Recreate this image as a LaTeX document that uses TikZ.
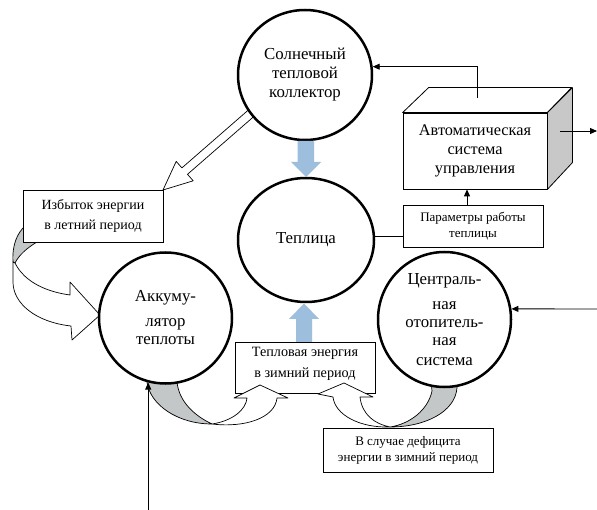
\documentclass[tikz,border=0pt]{standalone}
\usepackage{fontspec}
\setmainfont{Liberation Serif}
\usetikzlibrary{shapes.geometric,arrows.meta}
\definecolor{ribgray}{HTML}{C3C7C8}
\definecolor{facegray}{HTML}{C8C8C8}
\definecolor{arrblue}{HTML}{9DBEDC}
\begin{document}
\begin{tikzpicture}[x=1pt,y=-1pt,
  circ/.style={ellipse, draw, line width=2.5pt, fill=white, align=center, inner sep=0pt,
    font=\fontsize{16.8}{19}\selectfont},
  lbox/.style={draw, line width=0.8pt, fill=white, align=center, inner sep=0pt},
  smA/.style={font=\fontsize{14}{20}\selectfont},
  smB/.style={font=\fontsize{13}{16}\selectfont},
  conn/.style={line width=0.9pt, -{Triangle[length=7pt,width=6pt]}},
  rib/.style={draw, line width=0.7pt, line join=round},
  blue/.style={fill=arrblue}
]
\useasboundingbox (0,0) rectangle (597,510);
\fill[white] (0,0) rectangle (597,510);

% box under the lower arrowheads
\node[lbox, minimum width=140, minimum height=51] (tepE) at (305,367.5) {};

% left ribbon (summer surplus -> accumulator)
\path[rib, fill=ribgray] (13,262) .. controls (12,245) and (17,233) .. (26,225) -- (40,235) -- (37,242)
  .. controls (27,248) and (19,255) .. (15,263) -- cycle;
\path[rib, fill=white] (15,263) .. controls (25,283) and (48,292) .. (70,295) -- (70,282) -- (100,315)
  -- (72,340) -- (71,326) .. controls (35,322) and (13,303) .. (13,282) -- (13,262) -- cycle;

% hollow straight arrow (collector -> surplus box)
\path[rib, fill=white] (253.2,105.8) -- (181.9,167.9) -- (176.2,161.4) -- (163,190) -- (193.2,180.8)
  -- (187.5,174.3) -- (258.8,112.2) -- cycle;

% bottom-left ribbon (accumulator -> winter energy)
\path[rib, fill=ribgray] (147,372) -- (147,382) .. controls (150,405) and (178,424) .. (212,424)
  .. controls (195,416) and (179,402) .. (177,382) -- (177,372) -- cycle;
\path[rib, fill=white] (212,424) .. controls (232,421) and (246,410) .. (247,398) -- (234,398) -- (260,385)
  -- (288,398) -- (277,398) .. controls (275,418) and (245,428) .. (212,424) -- cycle;

% bottom-right ribbon (central heating -> winter energy)
\path[rib, fill=ribgray] (431,380) -- (432,391) .. controls (428,410) and (410,424) .. (390,427)
  .. controls (425,427) and (455,412) .. (457,388) -- (457,378) -- cycle;
\path[rib, fill=white] (390,427) .. controls (360,428) and (335,415) .. (333,397) -- (318,394) -- (344,383)
  -- (373,397) -- (360,397) .. controls (362,415) and (375,424) .. (390,427) -- cycle;

% circles
\node[circ, minimum width=134, minimum height=130] (coll) at (305,75) {Солнечный\\тепловой\\коллектор};
\node[circ, minimum width=136, minimum height=124] (tepl) at (306,240) {Теплица};
\node[circ, minimum width=133, minimum height=131, font=\fontsize{16.8}{18}\selectfont] (akk) at (165.5,318)
  {Аккуму-\\[7pt]лятор\\теплоты};
\node[circ, minimum width=133, minimum height=135, font=\fontsize{16.8}{18}\selectfont] (cent) at (444.5,319.5)
  {Централь-\\[7pt]ная\\отопитель-\\ная\\[2pt]система};

% blue arrows
\path[blue] (297.5,141) -- (314,141) -- (314,162) -- (321,162) -- (306,177) -- (291,162) -- (297.5,162) -- cycle;
\path[blue] (296,342) -- (312,342) -- (312,319) -- (319,319) -- (304,303.5) -- (289,319) -- (296,319) -- cycle;

% text boxes
\node[lbox, smA, minimum width=140, minimum height=52] (izb) at (93,216) {Избыток энергии\\в летний период};
\node[align=center, inner sep=0pt, font=\fontsize{14.2}{20.5}\selectfont] (tepEt) at (305,364)
  {Тепловая энергия\\в зимний период};
\node[lbox, smB, minimum width=170, minimum height=44] (def) at (408,450) {В случае дефицита\\энергии в зимний период};
\node[lbox, minimum width=140, minimum height=42, font=\fontsize{13}{15.5}\selectfont] (param) at (473,226)
  {Параметры работы\\теплицы};

% 3D control box
\node[lbox, minimum width=144, minimum height=76, font=\fontsize{16.3}{19}\selectfont] (auto) at (475,151)
  {Автоматическая\\система\\управления};
\draw[line width=0.8pt, fill=white, line join=round] (auto.north west) -- ++(26,-25) -- ++(143,0) -- (auto.north east) -- cycle;
\draw[line width=0.8pt, fill=facegray, line join=round] (auto.north east) -- ++(25,-25) -- ++(0,75) -- (auto.south east) -- cycle;

% connectors
\coordinate (atop) at (477,98);
\draw[conn] (atop) |- (coll.7);
\coordinate (aout) at (560,131);
\coordinate (rend) at (597,131);
\draw[conn] (aout) -- (rend);
\draw[line width=0.8pt] (tepl.3) -- (tepl.3 -| param.west);
\draw[conn] ([xshift=-6pt]param.north) -- ([xshift=-6pt]param.north |- auto.south);
\coordinate (cin) at (597,309);
\draw[conn] (cin) -- (cent.9);
\coordinate (bot) at (0,510);
\draw[conn] (akk.255 |- bot) -- (akk.255);
\end{tikzpicture}
\end{document}
